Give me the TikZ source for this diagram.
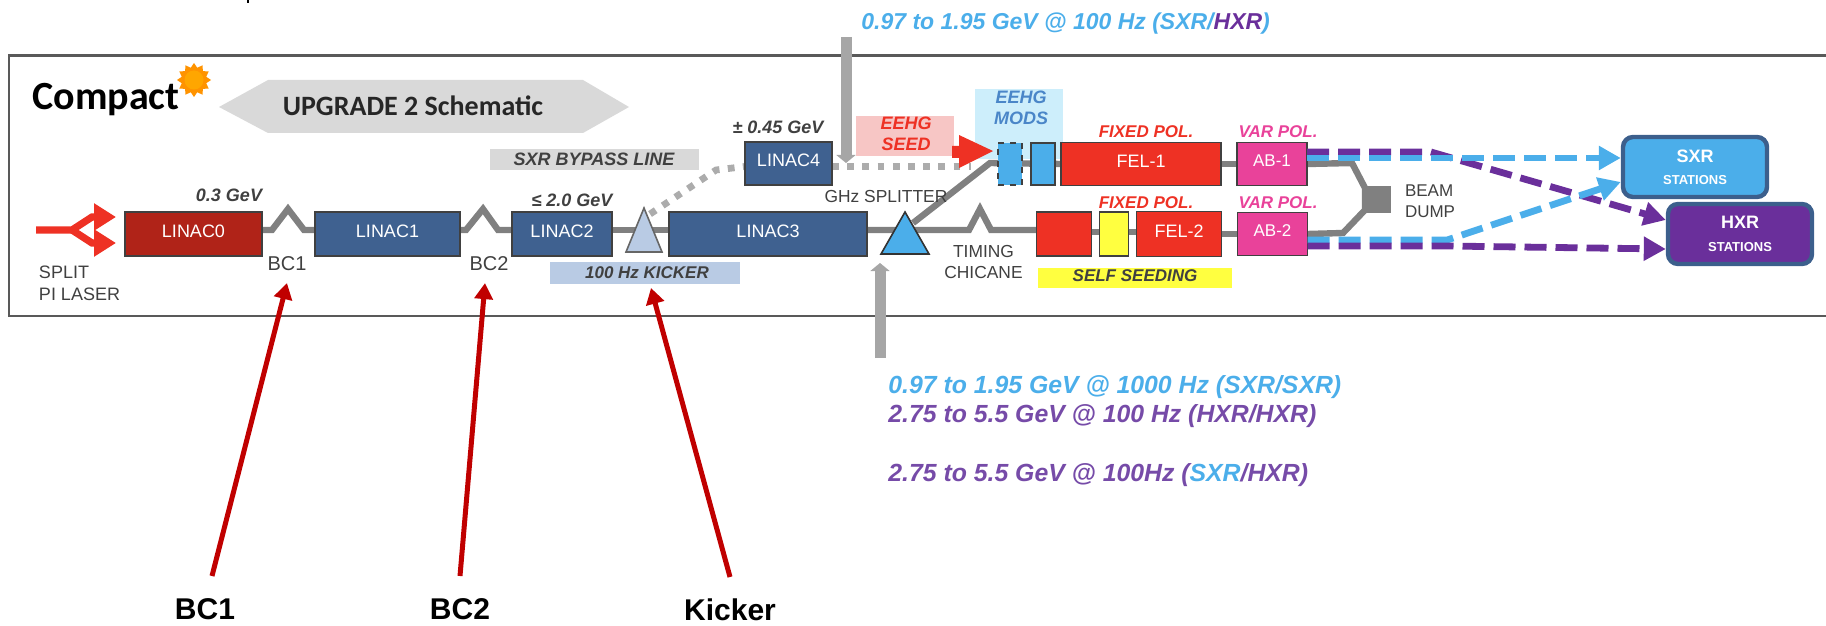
\documentclass[tikz,border=0pt]{standalone}
\usepackage{fontspec}
\setmainfont{Liberation Sans}
\newfontfamily\calfont{Carlito}
\usetikzlibrary{shapes.geometric, arrows.meta, positioning, backgrounds}
\definecolor{linacblue}{RGB}{63,97,144}
\definecolor{linacred}{RGB}{176,35,24}
\definecolor{felred}{RGB}{238,49,36}
\definecolor{abpink}{RGB}{233,66,154}
\definecolor{sxrblue}{RGB}{75,174,234}
\definecolor{hxrpurple}{RGB}{106,47,155}
\definecolor{stationedge}{RGB}{60,95,140}
\definecolor{kickblue}{RGB}{185,203,228}
\definecolor{beamgray}{RGB}{128,128,128}
\definecolor{lightgray}{RGB}{217,217,217}
\definecolor{dotgray}{RGB}{172,172,172}
\definecolor{feedgray}{RGB}{166,166,166}
\definecolor{seedpink}{RGB}{247,198,197}
\definecolor{modcyan}{RGB}{205,238,251}
\definecolor{modtext}{RGB}{74,134,200}
\definecolor{selfyellow}{RGB}{255,255,64}
\definecolor{arrowred}{RGB}{192,0,0}
\definecolor{ratepurple}{RGB}{118,75,168}
\definecolor{textgray}{RGB}{64,64,64}
\newcommand{\fsize}[1]{\fontsize{#1pt}{10.5pt}\selectfont}
\tikzset{
  %% ---- boxes ----
  acc/.style     = {rectangle, draw=black!75, line width=0.7pt, outer sep=0pt,
                    inner sep=0pt, minimum width=#1, text=white, text depth=3pt,
                    font=\fsize{9}},
  linac/.style   = {acc=#1, fill=linacblue, minimum height=22pt},
  felbox/.style  = {acc=#1, fill=felred, minimum height=21.5pt},
  abbox/.style   = {acc=35pt, fill=abpink, minimum height=21.5pt, font=\fsize{8.5}},
  modbox/.style  = {acc=12pt, fill=sxrblue, minimum height=21pt},
  tagbox/.style  = {rectangle, fill=#1, inner sep=0pt, outer sep=0pt, align=center},
  station/.style = {rectangle, rounded corners=5pt, draw=stationedge, line width=2.2pt,
                    fill=#1, minimum width=72pt, minimum height=30pt, text=white,
                    align=center, inner sep=0pt},
  trigger/.style = {isosceles triangle, isosceles triangle apex angle=44,
                    isosceles triangle stretches, shape border rotate=90,
                    draw=#1, inner sep=0pt, outer sep=0pt, line width=0.8pt},
  %% ---- labels ----
  plain/.style   = {inner sep=0pt, outer sep=0pt, align=center, text=textgray,
                    font=\fsize{8.7}},
  energy/.style  = {plain, font=\fsize{9}\bfseries\itshape},
  tagtext/.style = {inner sep=0pt, outer sep=0pt, align=center,
                    font=\fsize{8.5}\bfseries\itshape, text=#1},
  rate/.style    = {inner sep=0pt, anchor=west, font=\fsize{12.4}\bfseries\itshape,
                    text=ratepurple},
  reflabel/.style= {inner sep=0pt, outer sep=0pt, minimum height=33pt,
                    font=\fsize{15}\bfseries},
  %% ---- arrows ----
  beam/.style      = {line width=3.2pt, color=beamgray, line join=miter},
  bypass/.style    = {line width=3.4pt, color=dotgray, dash pattern=on 3.4pt off 4.2pt},
  feedarrow/.style = {-{Triangle[length=4pt,width=9.5pt]}, line width=5.5pt, color=feedgray},
  redarrow/.style  = {-{Triangle[length=8pt,width=9pt]}, line width=2.5pt, color=arrowred},
  sxrline/.style   = {-{Triangle[length=11pt,width=11.5pt]}, line width=3.4pt, color=sxrblue,
                      dash pattern=on 11pt off 4.5pt},
  hxrline/.style   = {sxrline, color=hxrpurple},
  laser/.style     = {-{Triangle[length=11pt,width=13pt]}, line width=3.6pt, color=felred},
}

\begin{document}
\begin{tikzpicture}[x=0.5pt, y=-0.5pt]
  \useasboundingbox (0,0) rectangle (1826,626);

  %% frame and title
  \draw[line width=1.2pt, color=black!65] (1826,55.5) -- (9,55.5) -- (9,316) -- (1826,316);
  \draw[line width=1pt] (248,0) -- (248,3);
  \node[inner sep=0pt, font=\calfont\fsize{20}\bfseries] (compact) at (106,100) {Compact};
  \node[star, star points=12, star point ratio=1.35, fill=orange!85!yellow, inner sep=0pt,
        minimum size=17pt] (sunrays) at (194,80) {};
  \node[circle, fill=orange!70!yellow, inner sep=0pt, minimum size=9.5pt] (sun) at (194,80) {};
  \fill[lightgray] (219,107) -- (268,80) -- (583,80) -- (629,107) -- (583,133) -- (268,133) -- cycle;
  \node[inner sep=0pt, font=\calfont\fsize{14}\bfseries, text=black!85] (title) at (413,106) {UPGRADE 2 Schematic};

  %% linac line
  \node[linac=68.5pt, fill=linacred] (linac0) at (193.5,234) {LINAC0};
  \node[linac=72.5pt, right=26.5pt of linac0] (linac1) {LINAC1};
  \node[linac=50pt, right=26pt of linac1] (linac2) {LINAC2};
  \node[linac=99pt, right=28.5pt of linac2] (linac3) {LINAC3};
  \node[linac=43.5pt, minimum height=21.5pt] (linac4) at (788.5,163.5) {LINAC4};

  \node[trigger=black!60, fill=kickblue, minimum width=18pt, minimum height=22pt,
        anchor=lower side] (kicker) at (644,252) {};
  \node[trigger=black!80, fill=sxrblue, minimum width=24pt, minimum height=21pt,
        anchor=lower side] (splitter) at (905,254) {};

  %% undulators
  \node[felbox=80pt] (fel1) at (1141,164) {FEL-1};
  \node[modbox, left=3pt of fel1] (mod2) {};
  \node[modbox, dashed, left=4.5pt of mod2] (mod1) {};
  \node[abbox, right=8pt of fel1] (ab1) {AB-1};
  \node[felbox=42.5pt, minimum height=22.5pt] (fel2) at (1179,234) {FEL-2};
  \node[acc=14.5pt, fill=selfyellow, minimum height=22pt, left=4pt of fel2] (seedyel) {};
  \node[felbox=27.5pt, minimum height=22pt, left=4pt of seedyel] (seedred) {};
  \node[abbox, right=8pt of fel2] (ab2) {AB-2};

  %% stations
  \node[station=sxrblue] (sxr) at (1695,167)
    {{\fsize{9}\bfseries SXR}\\[-0.8pt]{\fsize{6.5}\bfseries STATIONS}};
  \node[station=hxrpurple] (hxr) at (1740,234)
    {{\fsize{9}\bfseries HXR}\\[-0.8pt]{\fsize{6.5}\bfseries STATIONS}};

  %% tags behind the beam
  \begin{scope}[on background layer]
    \node[tagbox=lightgray, minimum width=104.5pt, minimum height=10.5pt] (bypasstag) at (594.5,159.5) {};
    \node[tagbox=kickblue, minimum width=95pt, minimum height=11pt] (kicktag) at (645,273) {};
    \node[tagbox=seedpink, minimum width=49pt, minimum height=20pt] (seedtag) at (905,136) {};
    \node[tagbox=modcyan, minimum width=44pt, minimum height=35pt] (modtag) at (1019,124.5) {};
    \node[tagbox=selfyellow, minimum width=97pt, minimum height=10pt] (selftag) at (1135,278) {};
    \draw[bypass] ([xshift=3pt,yshift=-3pt]kicker.apex) -- (716,170) -- ([yshift=-1.5pt]linac4.west);
    \draw[bypass] ([yshift=-1.5pt]linac4.east) -- (971,166.5);
    \draw[beam] ([yshift=2pt]linac0.east) -- ++(10,0) -- ++(16,-21) -- ++(16,21) -- ([yshift=2pt]linac1.west);
    \draw[beam] ([yshift=2pt]linac1.east) -- ++(6,0) -- ++(17,-21) -- ++(15,21) -- ([yshift=2pt]linac2.west);
    \draw[beam] ([yshift=2pt]linac2.east) -- ([yshift=2pt]linac3.west);
    \draw[beam] ([yshift=2pt]linac3.east) -- ++(102,0) -- ++(11,-21) -- ++(11,21) -- ([yshift=2pt]seedred.west);
    \draw[beam] (splitter.apex) ++(8,11) -- (990,163) -- (fel1.west);
    \draw[beam] ([yshift=1pt]seedred.east) -- ([yshift=1pt]fel2.west);
    \draw[beam] (fel1.east) -- (ab1.west);
    \draw[beam] (fel2.east) -- (ab2.west);
    \draw[beam] (ab1.east) -- (1352,163) -- (1365,188) -- (1365,210) -- (1343,233) -- (ab2.east);
  \end{scope}
  \node[fill=beamgray, minimum width=13pt, minimum height=13.5pt, inner sep=0pt, outer sep=0pt] (dump) at (1378,199.5) {};

  %% energy and plain labels
  \node[energy] (e0) at (229,195) {0.3 GeV};
  \node[energy] (e2) at (572,200) {≤ 2.0 GeV};
  \node[energy] (e4) at (778,127) {± 0.45 GeV};
  \node[plain, align=left, anchor=north west, font=\fsize{9}] (pilaser) at (39,266) {SPLIT\\[0.5pt]PI LASER};
  \node[plain, font=\fsize{10}] (bc1) at (287,264) {BC1};
  \node[plain, font=\fsize{10}] (bc2) at (489,264) {BC2};
  \node[plain] (ghz) at (886,197) {GHz SPLITTER};
  \node[plain] (timing) at (983.5,262.5) {TIMING\\CHICANE};
  \node[plain, align=left, anchor=west, font=\fsize{8.5}] (dumptxt) at (1405,201) {BEAM\\DUMP};
  \node[tagtext=textgray, font=\fsize{9}\bfseries\itshape] (bypasstxt) at (594,159.5) {SXR BYPASS LINE};
  \node[tagtext=textgray] (kicktxt) at (647,273) {100 Hz KICKER};
  \node[tagtext=felred, font=\fsize{9}\bfseries\itshape] (seedtxt) at (906,133.5) {EEHG\\SEED};
  \node[tagtext=modtext, font=\fsize{9}\bfseries\itshape] (modtxt) at (1021,107.5) {EEHG\\MODS};
  \node[tagtext=felred] (fixed1) at (1146,132) {FIXED POL.};
  \node[tagtext=felred] (fixed2) at (1146,203) {FIXED POL.};
  \node[tagtext=abpink] (var1) at (1278,132) {VAR POL.};
  \node[tagtext=abpink] (var2) at (1278,203) {VAR POL.};
  \node[tagtext=textgray] (selftxt) at (1135,276) {SELF SEEDING};

  %% seed arrow
  \fill[felred] (952,146) -- (959,146) -- (959,135) -- (993,151) -- (959,168) -- (959,158) -- (952,158) -- cycle;

  %% laser
  \coordinate (laserin) at (36,230);
  \coordinate (laserfork) at (72,230);
  \draw[laser] (laserin) -- (laserfork) -- (92,217) -- (116,217);
  \draw[laser] (laserfork) -- (92,243) -- (116,243);

  %% stations feed
  \draw[hxrline] (ab1.east |- 0,152) -- (1431,152) -- (hxr.west |- 0,220);
  \draw[sxrline] (ab1.east |- 0,158) -- (sxr.west |- 0,158);
  \draw[sxrline] (ab2.east |- 0,240) -- (1447,240) -- (sxr.west |- 0,182);
  \draw[hxrline] (ab2.east |- 0,246) -- (1447,246) -- (hxr.west |- 0,249);

  %% gray feeds
  \coordinate (feedtop) at (846,37);
  \coordinate (feedtoptip) at (846,163);
  \coordinate (feedlow) at (880,358);
  \coordinate (feedlowtip) at (880,263);
  \draw[feedarrow] (feedtop) -- (feedtoptip);
  \draw[feedarrow] (feedlow) -- (feedlowtip);

  %% rates
  \node[rate, text=sxrblue, font=\fsize{11.5}\bfseries\itshape] (ratetop) at (861,24)
    {0.97 to 1.95 GeV @ 100 Hz (SXR/\textcolor{hxrpurple}{HXR})};
  \node[rate, text=sxrblue] (ratesxr) at (888,387) {0.97 to 1.95 GeV @ 1000 Hz (SXR/SXR)};
  \node[rate] (ratehxr) at (888,416) {2.75 to 5.5 GeV @ 100 Hz (HXR/HXR)};
  \node[rate] (ratemix) at (888,475) {2.75 to 5.5 GeV @ 100Hz (\textcolor{sxrblue}{SXR}/HXR)};

  %% bottom callouts
  \node[reflabel] (lblbc1) at (205,609) {BC1};
  \node[reflabel] (lblbc2) at (460,609) {BC2};
  \node[reflabel] (lblkick) at (730,610) {Kicker};
  \draw[redarrow] ([xshift=3.5pt]lblbc1.north) -- ([yshift=-6pt]bc1.south);
  \draw[redarrow] (lblbc2.north) -- ([xshift=-2pt,yshift=-6pt]bc2.south);
  \draw[redarrow] (lblkick.north) -- ([xshift=3pt,yshift=-2pt]kicktag.south);

\end{tikzpicture}
\end{document}
